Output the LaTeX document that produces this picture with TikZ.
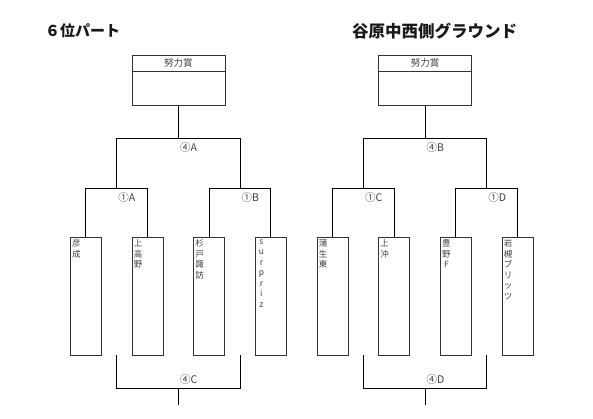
\documentclass[tikz,border=0pt]{standalone}
\usepackage{fontspec}
\setmainfont{Noto Sans CJK JP}
\usetikzlibrary{positioning}

\begin{document}
\begin{tikzpicture}[x=1pt, y=-1pt,
    sidetitle/.style={anchor=west, inner sep=0, font=\fontsize{15}{15}\selectfont\bfseries, text=black!90},
    prizehead/.style={draw=black!80, minimum width=93pt, minimum height=16.5pt, inner sep=0, outer sep=0, font=\fontsize{9.5}{9.5}\selectfont, text=black!75},
    prize/.style={draw=black!80, minimum width=93pt, minimum height=33.5pt, outer sep=0},
    team/.style={draw=black!80, minimum width=31pt, minimum height=117.5pt, outer sep=0, anchor=north},
    teamname/.style={inner sep=0, text width=9pt, align=center, font=\fontsize{8.5}{10.5}\selectfont, text=black!75},
    matchlbl/.style={inner sep=0, font=\fontsize{10.5}{10.5}\selectfont, text=black!75},
    bracket/.style={line width=0.8pt}
]
\useasboundingbox (0,0) rectangle (593,419);

% 見出し
\node[sidetitle] (hleft) at (45,31) {６位パート};
\node[sidetitle, font=\fontsize{16.5}{16.5}\selectfont\bfseries] (hright) at (352,31) {谷原中西側グラウンド};

% 努力賞
\node[prizehead, anchor=north] (p1h) at (178.3,55) {努力賞};
\node[prize, below=0pt of p1h] (p1) {};
\node[prizehead, anchor=north] (p2h) at (425,55) {努力賞};
\node[prize, below=0pt of p2h] (p2) {};

% 分岐点（左）
\coordinate (j4A) at (178.3,138.3);
\coordinate (m1A) at (116.7,188.3);
\coordinate (m1B) at (240,188.3);
\coordinate (b4Cl) at (116.7,355);
\coordinate (b4Cr) at (240,355);
\coordinate (j4C) at (178.3,388.3);
\coordinate (e4C) at (178.3,405);

% 分岐点（右）
\coordinate (j4B) at (425,138.3);
\coordinate (m1C) at (363.3,188.3);
\coordinate (m1D) at (486.7,188.3);
\coordinate (b4Dl) at (363.3,355);
\coordinate (b4Dr) at (486.7,355);
\coordinate (j4D) at (425,388.3);
\coordinate (e4D) at (425,405);

% チーム（左）
\node[team] (t1) at (85.7,237.5) {};
\node[teamname, below right=2pt and 1.5pt of t1.north west] (n1) {彦\\成};
\node[team] (t2) at (147.3,237.5) {};
\node[teamname, below right=2pt and 1.5pt of t2.north west] (n2) {上\\高\\野};
\node[team] (t3) at (209,237.5) {};
\node[teamname, below right=2pt and 1.5pt of t3.north west] (n3) {杉\\戸\\諏\\訪};
\node[team] (t4) at (270.7,237.5) {};
\node[teamname, below right=2pt and 1.5pt of t4.north west] (n4) {s\\u\\r\\p\\r\\i\\z};

% チーム（右）
\node[team] (t5) at (332.3,237.5) {};
\node[teamname, below right=2pt and 1.5pt of t5.north west] (n5) {蒲\\生\\東};
\node[team] (t6) at (394,237.5) {};
\node[teamname, below right=2pt and 1.5pt of t6.north west] (n6) {上\\沖};
\node[team] (t7) at (455.7,237.5) {};
\node[teamname, below right=2pt and 1.5pt of t7.north west] (n7) {豊\\野\\F};
\node[team] (t8) at (517.3,237.5) {};
\node[teamname, below right=2pt and 1.5pt of t8.north west] (n8) {岩\\槻\\ブ\\リ\\ッ\\ツ};

% 線（左）
\draw[bracket] (p1.south) -- (j4A);
\draw[bracket] (m1A) |- (j4A) -| (m1B);
\draw[bracket] (t1.north) |- (m1A) -| (t2.north);
\draw[bracket] (t3.north) |- (m1B) -| (t4.north);
\draw[bracket] (b4Cl) |- (j4C) -| (b4Cr);
\draw[bracket] (j4C) -- (e4C);

% 線（右）
\draw[bracket] (p2.south) -- (j4B);
\draw[bracket] (m1C) |- (j4B) -| (m1D);
\draw[bracket] (t5.north) |- (m1C) -| (t6.north);
\draw[bracket] (t7.north) |- (m1D) -| (t8.north);
\draw[bracket] (b4Dl) |- (j4D) -| (b4Dr);
\draw[bracket] (j4D) -- (e4D);

% 試合番号
\node[matchlbl, below right=4.5pt and 1.5pt of j4A] (l4A) {④A};
\node[matchlbl, below right=4.5pt and 1.5pt of m1A] (l1A) {①A};
\node[matchlbl, below right=4.5pt and 1.5pt of m1B] (l1B) {①B};
\node[matchlbl, above right=4pt and 1.5pt of j4C] (l4C) {④C};
\node[matchlbl, below right=4.5pt and 1.5pt of j4B] (l4B) {④B};
\node[matchlbl, below right=4.5pt and 1.5pt of m1C] (l1C) {①C};
\node[matchlbl, below right=4.5pt and 1.5pt of m1D] (l1D) {①D};
\node[matchlbl, above right=4pt and 1.5pt of j4D] (l4D) {④D};

\end{tikzpicture}
\end{document}
